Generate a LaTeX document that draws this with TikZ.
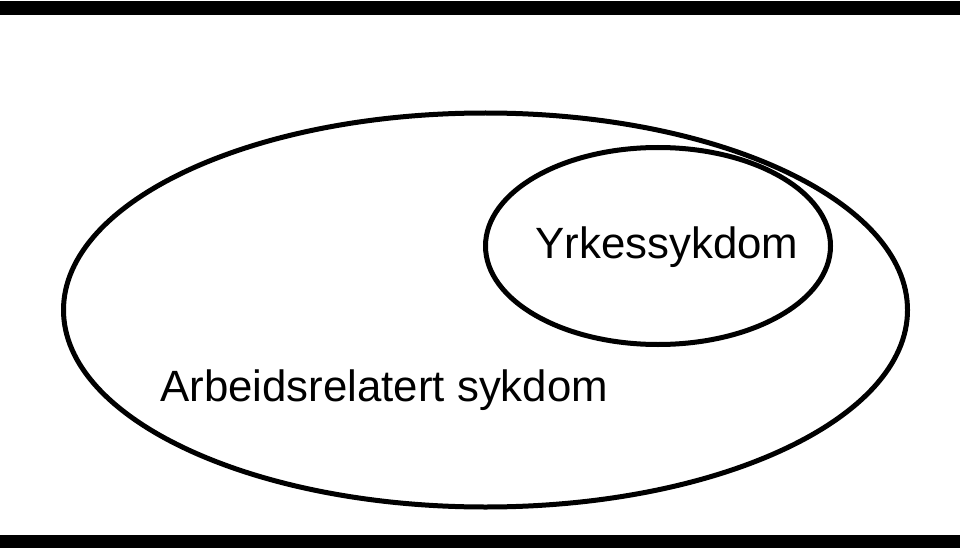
\documentclass[tikz,border=0pt]{standalone}
\usepackage{fontspec}
\setmainfont{Liberation Sans}
\usetikzlibrary{shapes.geometric}
\begin{document}
\begin{tikzpicture}[x=1pt,y=-1pt,
  setring/.style={draw=black, line width=5pt, ellipse, inner sep=0pt},
  setlabel/.style={font=\fontsize{43.8}{50}\selectfont, text=black, inner sep=0pt},
  bar/.style={fill=black}]
\useasboundingbox (0,0) rectangle (960,548);
\fill[white] (0,0) rectangle (960,548);
\fill[bar] (0,1) rectangle (960,15);
\fill[bar] (0,535) rectangle (960,548);
\node[setring, minimum width=844pt, minimum height=394pt] (big) at (485.5,310) {};
\node[setring, minimum width=345pt, minimum height=197pt] (small) at (658,246) {};
\node[setlabel, anchor=base] (ylab) at (667,258) {Yrkessykdom};
\node[setlabel, anchor=base west] (alab) at (160,401.7) {Arbeidsrelatert sykdom};
\end{tikzpicture}
\end{document}
